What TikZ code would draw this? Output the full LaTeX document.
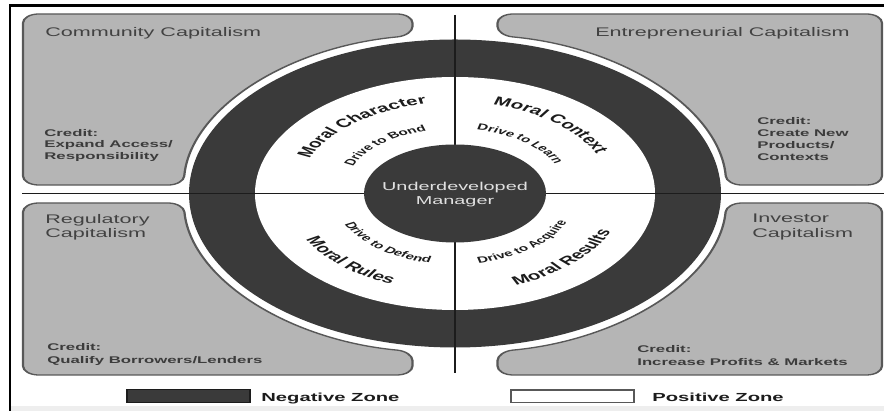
\documentclass[tikz,border=0pt]{standalone}
\usepackage{fontspec}
\setmainfont{Liberation Sans}
\usetikzlibrary{decorations.text}

\definecolor{panelfill}{RGB}{181,181,181}
\definecolor{panelrim}{RGB}{88,88,88}
\definecolor{ringdark}{RGB}{58,58,58}
\definecolor{inkdark}{RGB}{28,28,28}
\definecolor{titleink}{RGB}{66,66,66}
\definecolor{creditink}{RGB}{60,60,60}
\definecolor{coreink}{RGB}{224,224,224}
\definecolor{stripgray}{RGB}{238,238,238}

% fonts of the lettering set along the rings
\newcommand\bigringfont{\bfseries\fontsize{12}{14}\selectfont\color{inkdark}}
\newcommand\smallringfont{\bfseries\fontsize{8.8}{10}\selectfont\color{inkdark}}

\tikzset{
  panel/.style={fill=panelfill, draw=panelrim, line width=1.3pt, rounded corners=9pt},
  divider/.style={draw=inkdark, line width=1.5pt},
  title/.style={inner sep=0pt, text=titleink, font=\fontsize{12.5}{15}\selectfont, anchor=base west},
  credit/.style={inner sep=0pt, text=creditink, font=\bfseries\fontsize{9.7}{11.6}\selectfont, anchor=base west},
  core/.style={inner sep=0pt, text=coreink, font=\fontsize{11.5}{14}\selectfont, anchor=base},
  keylabel/.style={inner sep=0pt, text=inkdark, font=\bfseries\fontsize{11.7}{14}\selectfont, anchor=base west},
  ringtext/.style={decorate, decoration={text along path, text align=center, text={#1}}},
  % wide lettering: x unit shrunk, canvas stretched back
  stretched/.style={x=0.57904pt, transform canvas={xscale=1.727}}
}

\begin{document}
\begin{tikzpicture}[x=1pt,y=1pt]
\useasboundingbox (0,0) rectangle (884,411);
\fill[stripgray] (10,0) rectangle (884,5);

\begin{scope}[stretched]
  \coordinate (C) at (455,217.5);
  % four quadrant panels, cut round the ring
  \path[panel] (23,311) -- (23,397) -- (412.5,397) -- (412.5,375.5)
    arc[start angle=99, end angle=176.96, x radius=272, y radius=160] -- (23,226) -- cycle;
  \path[panel] (882,311) -- (882,397) -- (497.5,397) -- (497.5,375.5)
    arc[start angle=81, end angle=3.04, x radius=272, y radius=160] -- (882,226) -- cycle;
  \path[panel] (23,122) -- (23,208) -- (183.5,208)
    arc[start angle=183.4, end angle=261, x radius=272, y radius=160] -- (412.5,36) -- (23,36) -- cycle;
  \path[panel] (882,122) -- (882,208) -- (726.5,208)
    arc[start angle=-3.4, end angle=-81, x radius=272, y radius=160] -- (497.5,36) -- (882,36) -- cycle;
  % negative outer ring and positive inner ring
  \fill[ringdark] (C) ellipse[x radius=266, y radius=154];
  \fill[white] (C) ellipse[x radius=200, y radius=116.5];
\end{scope}

% quadrant dividers
\coordinate (vtop) at (455,396);
\coordinate (vbot) at (455,38);
\coordinate (hleft) at (22,217.5);
\coordinate (hright) at (884,217.5);
\draw[divider] (vtop) -- (vbot);
\draw[divider] (hleft) -- (hright);

\begin{scope}[stretched]
  \fill[ringdark] (C) ellipse[x radius=91, y radius=49];
  \node[core] (core1) at (455,220) {Underdeveloped};
  \node[core] (core2) at (455,206) {Manager};

  \begin{scope}[shift={(C)}]
    \path[ringtext={|\bigringfont|Moral Character}] (169:91pt) arc[start angle=169, end angle=89, radius=91pt];
    \path[ringtext={|\smallringfont|Drive to Bond}] (175:65pt) arc[start angle=175, end angle=85, radius=65pt];
    \path[ringtext={|\bigringfont|Moral Context}] (91:91pt) arc[start angle=91, end angle=11, radius=91pt];
    \path[ringtext={|\smallringfont|Drive to Learn}] (98:65pt) arc[start angle=98, end angle=8, radius=65pt];
    \path[ringtext={|\smallringfont|Drive to Defend}] (187:71pt) arc[start angle=187, end angle=277, radius=71pt];
    \path[ringtext={|\bigringfont|Moral Rules}] (188:98pt) arc[start angle=188, end angle=268, radius=98pt];
    \path[ringtext={|\smallringfont|Drive to Acquire}] (263:71pt) arc[start angle=263, end angle=354, radius=71pt];
    \path[ringtext={|\bigringfont|Moral Results}] (274:98pt) arc[start angle=274, end angle=354, radius=98pt];
  \end{scope}

  % panel lettering
  \node[title] (tl) at (45,374) {Community Capitalism};
  \node[credit] (tl1) at (44,274.5) {Credit:};
  \node[credit] (tl2) at (44,263) {Expand Access/};
  \node[credit] (tl3) at (44,251.5) {Responsibility};

  \node[title, anchor=base east] (tr) at (850,374) {Entrepreneurial Capitalism};
  \node[credit] (tr1) at (757,286) {Credit:};
  \node[credit] (tr2) at (757,274) {Create New};
  \node[credit] (tr3) at (757,262) {Products/};
  \node[credit] (tr4) at (757,250) {Contexts};

  \node[title] (bla) at (45,187) {Regulatory};
  \node[title] (blb) at (45,173) {Capitalism};
  \node[credit] (bl1) at (47,60) {Credit:};
  \node[credit] (bl2) at (47,47.5) {Qualify Borrowers/Lenders};

  \node[title] (bra) at (752,188) {Investor};
  \node[title] (brb) at (752,173) {Capitalism};
  \node[credit] (br1) at (637,58) {Credit:};
  \node[credit] (br2) at (637,45.5) {Increase Profits \& Markets};

  % key
  \path[draw=inkdark, fill=ringdark, line width=1pt] (127,8.5) rectangle (250,21);
  \node[keylabel] (negkey) at (261,9) {Negative Zone};
  \path[draw=panelrim, fill=white, line width=1.1pt] (511,8.5) rectangle (634,21);
  \node[keylabel] (poskey) at (652,9) {Positive Zone};
\end{scope}

% outer frame
\draw[black, line width=2.6pt] (884,405.5) -- (10,405.5) -- (10,0);
\end{tikzpicture}
\end{document}
